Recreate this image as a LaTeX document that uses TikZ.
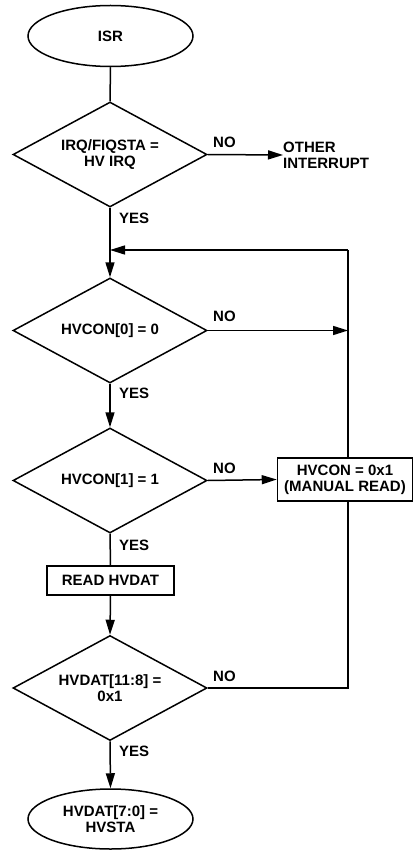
\documentclass[tikz,border=0pt]{standalone}
\usepackage{fontspec}
\setmainfont{Liberation Sans}
\usetikzlibrary{shapes.geometric,arrows.meta}
\begin{document}
\begin{tikzpicture}[x=1pt,y=-1pt,
  every node/.style={font=\fontsize{15}{16}\selectfont\bfseries, align=center},
  line/.style={line width=1.5pt},
  arr/.style={line/.try, -{Triangle[length=15pt,width=9pt]}},
  term/.style={ellipse, draw, line width=1.5pt, minimum width=165pt, minimum height=61pt, inner sep=0pt},
  dec/.style={diamond, draw, line width=1.5pt, aspect=1.85, minimum width=194pt, minimum height=105pt, inner sep=0pt},
  proc/.style={rectangle, draw, line width=1.5pt, inner sep=0pt},
  lbl/.style={font=\fontsize{15}{16}\selectfont\bfseries, inner sep=0pt}
]
\useasboundingbox (0,0) rectangle (414,850);
\node[term] (isr) at (110.5,36) {ISR};
\node[dec] (d1) at (110,154.5) {IRQ/FIQSTA =\\HV IRQ};
\node[lbl, anchor=west, align=left] (oth) at (283,155) {OTHER\\INTERRUPT};
\node[dec] (d2) at (110,330.5) {HVCON[0] = 0};
\node[dec] (d3) at (110,480.5) {HVCON[1] = 1};
\node[proc, minimum width=135pt, minimum height=43pt] (hv) at (345,479.5) {HVCON = 0x1\\(MANUAL READ)};
\node[proc, minimum width=127pt, minimum height=29pt] (rd) at (110.5,580.5) {READ HVDAT};
\node[dec] (d4) at (110,688) {HVDAT[11:8] =\\0x1};
\node[term, minimum height=60pt] (end) at (110.5,819) {HVDAT[7:0] =\\HVSTA};

\coordinate (loop) at (110,250);
\coordinate (rtop) at (348,250);
\coordinate (rmid) at (348,330.5);
\coordinate (rbot) at (348,688);

\draw[line] (isr.south) -- (d1.north);
\draw[arr] (d1.east) -- (oth.west);
\draw[arr] (d1.south) -- (d2.north);
\draw[arr] (rtop) -- (loop);
\draw[line] (hv.north -| rtop) -- (rtop);
\draw[arr] (d2.east) -- (rmid);
\draw[arr] (d2.south) -- (d3.north);
\draw[arr] (d3.east) -- (hv.west);
\draw[line] (d3.south) -- (rd.north);
\draw[arr] (rd.south) -- (d4.north);
\draw[line] (d4.east) -- (rbot) -- (hv.south -| rbot);
\draw[arr] (d4.south) -- (end.north);

\node[lbl, anchor=west] (n1) at (213,142) {NO};
\node[lbl, anchor=west] (y1) at (119,218) {YES};
\node[lbl, anchor=west] (n2) at (213,316) {NO};
\node[lbl, anchor=west] (y2) at (119,393) {YES};
\node[lbl, anchor=west] (n3) at (213,468) {NO};
\node[lbl, anchor=west] (y3) at (119,545) {YES};
\node[lbl, anchor=west] (n4) at (213,676) {NO};
\node[lbl, anchor=west] (y4) at (119,751) {YES};
\end{tikzpicture}
\end{document}
